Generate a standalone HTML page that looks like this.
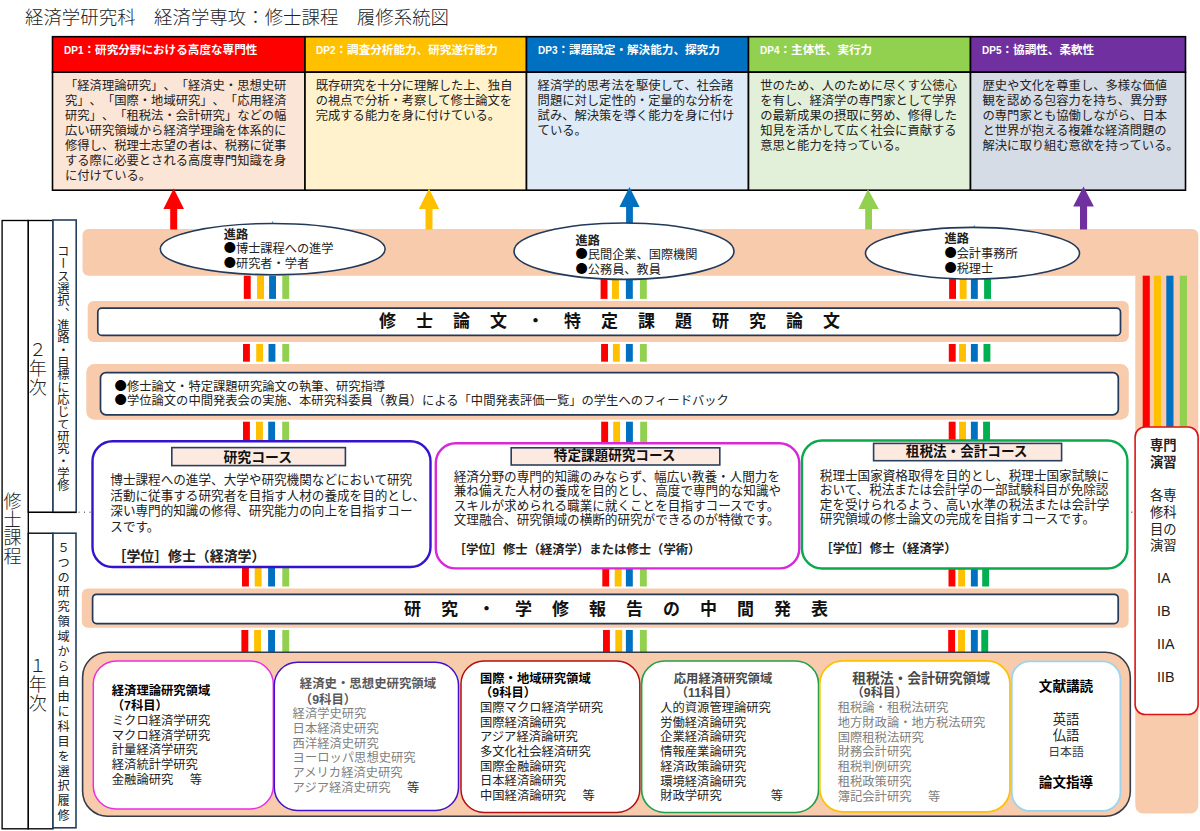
<!DOCTYPE html>
<html lang="ja">
<head>
<meta charset="utf-8">
<title>経済学研究科 経済学専攻：修士課程 履修系統図</title>
<style>
html,body{margin:0;padding:0;background:#fff;}
body{width:1200px;height:831px;position:relative;overflow:hidden;
  font-family:"Liberation Sans","Noto Sans CJK JP",sans-serif;color:#222;text-spacing-trim:space-all;}
#shapes{position:absolute;left:0;top:0;width:1200px;height:831px;}
.t{position:absolute;white-space:nowrap;font-size:12.3px;line-height:15.2px;margin:0;}
.b{font-weight:700;}
.hd{position:absolute;white-space:nowrap;font-size:11.6px;line-height:16px;font-weight:700;color:#fff;top:41.5px;}
.big{position:absolute;white-space:nowrap;font-weight:700;font-size:17px;line-height:24px;letter-spacing:20px;color:#111;}
.v{position:absolute;writing-mode:vertical-rl;white-space:nowrap;}
.g{color:#7f7f7f;}
.dp{line-height:15px;}
.k{font-family:"Noto Sans CJK JP",sans-serif;line-height:1;color:#000;}
.c{text-align:center;}
.dpn{font-size:10px;}
.e{margin-left:4.2px;}
</style>
</head>
<body>
<svg id="shapes" width="1200" height="831" viewBox="0 0 1200 831">
<!-- DP table -->
<g stroke="#000" stroke-width="1.6">
<rect x="52.5" y="36.7" width="252.5" height="35.5" fill="#FF0000"/>
<rect x="305" y="36.7" width="221.5" height="35.5" fill="#FFC000"/>
<rect x="526.5" y="36.7" width="222" height="35.5" fill="#0070C0"/>
<rect x="748.5" y="36.7" width="222" height="35.5" fill="#92D050"/>
<rect x="970.5" y="36.7" width="215" height="35.5" fill="#7030A0"/>
<rect x="52.5" y="72.2" width="252.5" height="118" fill="#FBE5D6"/>
<rect x="305" y="72.2" width="221.5" height="118" fill="#FFF2CC"/>
<rect x="526.5" y="72.2" width="222" height="118" fill="#DEEBF7"/>
<rect x="748.5" y="72.2" width="222" height="118" fill="#E2F0D9"/>
<rect x="970.5" y="72.2" width="215" height="118" fill="#D6DCE5"/>
</g>
<!-- left column boxes -->
<g fill="#fff" stroke="#000" stroke-width="1.35">
<rect x="2.1" y="220.5" width="26.2" height="608.3"/>
<rect x="28.3" y="220.5" width="24.7" height="291.8"/>
<rect x="28.3" y="533.2" width="24.7" height="295.6"/>
</g>
<g fill="#fff" stroke="#24405F" stroke-width="1.6">
<rect x="53" y="220" width="23.2" height="292.3"/>
<rect x="53" y="533.2" width="23" height="294.6"/>
</g>
<line x1="28.2" y1="512.3" x2="76" y2="512.3" stroke="#000" stroke-width="1.35"/>
<line x1="78.5" y1="512.2" x2="92" y2="512.2" stroke="#333" stroke-width="1" stroke-dasharray="1 4.5"/>
<rect x="1131.3" y="511.6" width="1" height="1.2" fill="#333"/>
<line x1="272.7" y1="221.3" x2="272.7" y2="223.6" stroke="#2E75B6" stroke-width="0.8"/>
<line x1="974.3" y1="225.3" x2="974.3" y2="227.6" stroke="#2E75B6" stroke-width="0.8"/>
<!-- salmon bands -->
<g fill="#F8CBAD">
<path d="M88.5 229H1192.3a6 6 0 0 1 6 6V805.5a8 8 0 0 1 -8 8H1143.3a8 8 0 0 1 -8 -8V275.7H88.5a6 6 0 0 1 -6 -6V235a6 6 0 0 1 6 -6z"/>
<rect x="87.7" y="301" width="1041.1" height="40.9" rx="6"/>
<rect x="86.3" y="364.1" width="1042.5" height="55.6" rx="8"/>
<rect x="81.8" y="588.6" width="1046.8" height="39.2" rx="6"/>
</g>
<!-- stripes -->
<g id="stripes">
<rect x="243.8" y="275.7" width="6.9" height="23.2" fill="#FF0000"/>
<rect x="257.1" y="275.7" width="6.9" height="23.2" fill="#FFC000"/>
<rect x="269.1" y="275.7" width="6.9" height="23.2" fill="#0070C0"/>
<rect x="282.3" y="275.7" width="6.9" height="23.2" fill="#92D050"/>
<rect x="600.6" y="275.7" width="6.9" height="23.2" fill="#FF0000"/>
<rect x="612" y="275.7" width="6.9" height="23.2" fill="#FFC000"/>
<rect x="625.9" y="275.7" width="6.9" height="23.2" fill="#0070C0"/>
<rect x="639.9" y="275.7" width="6.9" height="23.2" fill="#92D050"/>
<rect x="949.1" y="275.7" width="6.9" height="23.2" fill="#FF0000"/>
<rect x="959.7" y="275.7" width="6.9" height="23.2" fill="#FFC000"/>
<rect x="970.9" y="275.7" width="6.9" height="23.2" fill="#0070C0"/>
<rect x="984.1" y="275.7" width="6.9" height="23.2" fill="#00B050"/>
<rect x="243" y="344" width="6.9" height="17.7" fill="#FF0000"/>
<rect x="256.2" y="344" width="6.9" height="17.7" fill="#FFC000"/>
<rect x="268.5" y="344" width="6.9" height="17.7" fill="#0070C0"/>
<rect x="282.3" y="344" width="6.9" height="17.7" fill="#92D050"/>
<rect x="601.1" y="344" width="6.9" height="17.7" fill="#FF0000"/>
<rect x="612.9" y="344" width="6.9" height="17.7" fill="#FFC000"/>
<rect x="625.9" y="344" width="6.9" height="17.7" fill="#0070C0"/>
<rect x="639.9" y="344" width="6.9" height="17.7" fill="#92D050"/>
<rect x="948.8" y="344" width="6.9" height="17.7" fill="#FF0000"/>
<rect x="959.1" y="344" width="6.9" height="17.7" fill="#FFC000"/>
<rect x="970.9" y="344" width="6.9" height="17.7" fill="#0070C0"/>
<rect x="983.5" y="344" width="6.9" height="17.7" fill="#00B050"/>
<rect x="243" y="421.7" width="6.9" height="20.3" fill="#FF0000"/>
<rect x="256" y="421.7" width="6.9" height="20.3" fill="#FFC000"/>
<rect x="268.2" y="421.7" width="6.9" height="20.3" fill="#0070C0"/>
<rect x="282.2" y="421.7" width="6.9" height="20.3" fill="#92D050"/>
<rect x="601.2" y="421.7" width="6.9" height="20.3" fill="#FF0000"/>
<rect x="613.2" y="421.7" width="6.9" height="20.3" fill="#FFC000"/>
<rect x="626" y="421.7" width="6.9" height="20.3" fill="#0070C0"/>
<rect x="640.2" y="421.7" width="6.9" height="20.3" fill="#92D050"/>
<rect x="948.7" y="421.7" width="6.9" height="20.3" fill="#FF0000"/>
<rect x="959.1" y="421.7" width="6.9" height="20.3" fill="#FFC000"/>
<rect x="970.9" y="421.7" width="6.9" height="20.3" fill="#0070C0"/>
<rect x="983.1" y="421.7" width="6.9" height="20.3" fill="#00B050"/>
<rect x="242" y="567" width="6.9" height="19.5" fill="#FF0000"/>
<rect x="254.7" y="567" width="6.9" height="19.5" fill="#FFC000"/>
<rect x="268.1" y="567" width="6.9" height="19.5" fill="#0070C0"/>
<rect x="282.3" y="567" width="6.9" height="19.5" fill="#92D050"/>
<rect x="602.3" y="567" width="6.9" height="19.5" fill="#FF0000"/>
<rect x="614.7" y="567" width="6.9" height="19.5" fill="#FFC000"/>
<rect x="625.9" y="567" width="6.9" height="19.5" fill="#0070C0"/>
<rect x="639.9" y="567" width="6.9" height="19.5" fill="#92D050"/>
<rect x="948.5" y="567" width="6.9" height="19.5" fill="#FF0000"/>
<rect x="958.2" y="567" width="6.9" height="19.5" fill="#FFC000"/>
<rect x="970.9" y="567" width="6.9" height="19.5" fill="#0070C0"/>
<rect x="982.2" y="567" width="6.9" height="19.5" fill="#00B050"/>
<rect x="241.4" y="630" width="6.9" height="22" fill="#FF0000"/>
<rect x="254.1" y="630" width="6.9" height="22" fill="#FFC000"/>
<rect x="268.1" y="630" width="6.9" height="22" fill="#0070C0"/>
<rect x="282.3" y="630" width="6.9" height="22" fill="#92D050"/>
<rect x="603" y="630" width="6.9" height="22" fill="#FF0000"/>
<rect x="615.3" y="630" width="6.9" height="22" fill="#FFC000"/>
<rect x="625.9" y="630" width="6.9" height="22" fill="#0070C0"/>
<rect x="639.9" y="630" width="6.9" height="22" fill="#92D050"/>
<rect x="948.2" y="630" width="6.9" height="22" fill="#FF0000"/>
<rect x="958.1" y="630" width="6.9" height="22" fill="#FFC000"/>
<rect x="970.9" y="630" width="6.9" height="22" fill="#0070C0"/>
<rect x="981.3" y="630" width="6.9" height="22" fill="#00B050"/>
</g>
<!-- vertical stripes right -->
<rect x="1142.7" y="275.7" width="7.1" height="152" fill="#FF0000"/>
<rect x="1153.9" y="275.7" width="7.1" height="152" fill="#FFC000"/>
<rect x="1166.3" y="275.7" width="7.2" height="152" fill="#0070C0"/>
<rect x="1179.8" y="275.7" width="7.2" height="152" fill="#92D050"/>
<!-- arrows -->
<g>
<path d="M173.7 188.4L184 209H177.2V229.5H170.2V209H163.4z" fill="#FF0000"/>
<path d="M429 188.4L439.2 209H432.5V229.5H425.5V209H418.8z" fill="#FFC000"/>
<path d="M629.5 187L639.6 207H632.9V226H626.1V207H619.4z" fill="#0070C0"/>
<path d="M868 189.3L878.8 209H872V229.5H865.2V209H858.5z" fill="#92D050"/>
<path d="M1083.5 186.4L1093.9 206.6H1087.1V229.5H1080V206.6H1073.2z" fill="#7030A0"/>
</g>
<!-- ellipses -->
<g fill="#fff" stroke="#22395A" stroke-width="1.6">
<ellipse cx="272.7" cy="249.1" rx="112.4" ry="25.6"/>
<ellipse cx="624" cy="251.2" rx="110" ry="28.2"/>
<ellipse cx="972.5" cy="253.2" rx="107" ry="25.8"/>
</g>
<!-- white boxes in bands -->
<g fill="#fff" stroke="#22395A" stroke-width="1.7">
<rect x="97.8" y="308.2" width="1022.7" height="27.2" rx="4"/>
<rect x="100.5" y="372.6" width="1017.8" height="42.2" rx="5.5"/>
<rect x="92.6" y="594.3" width="1025.6" height="29.3" rx="4"/>
</g>
<!-- course boxes -->
<g fill="#fff" stroke-width="2.4">
<rect x="92.5" y="441.2" width="338" height="125.8" rx="20" stroke="#3512CF"/>
<rect x="435.8" y="443.3" width="363.5" height="125.1" rx="20" stroke="#D928D9"/>
<rect x="802" y="440.5" width="325.4" height="128" rx="20" stroke="#0BA84E"/>
</g>
<g fill="#FCEAE0" stroke="#2A3F5C" stroke-width="1.6">
<rect x="171.8" y="447.6" width="173.6" height="18"/>
<rect x="511.2" y="447.8" width="208.6" height="17.2"/>
<rect x="873.6" y="443.4" width="188" height="17.3"/>
</g>
<!-- right red box -->
<rect x="1135.1" y="427" width="63" height="287.5" rx="10" fill="#fff" stroke="#DC1414" stroke-width="1.6"/>
<!-- bottom container -->
<rect x="82.6" y="652.2" width="1047.7" height="164" rx="25" fill="#F8CBAD" stroke="#353C48" stroke-width="1.6"/>
<g fill="#fff" stroke-width="1.5">
<rect x="93.3" y="661" width="180" height="148" rx="23" stroke="#EA2FE0"/>
<rect x="274.3" y="662.3" width="184.2" height="148.2" rx="23" stroke="#4012D0"/>
<rect x="461" y="661" width="178.8" height="151.5" rx="23" stroke="#B50F0F"/>
<rect x="641.6" y="661" width="177" height="151.5" rx="23" stroke="#23A04B" stroke-width="1.7"/>
<rect x="819.8" y="660.8" width="190.2" height="151" rx="23" stroke="#FFC000" stroke-width="1.7"/>
<rect x="1011.8" y="661.3" width="108.6" height="149.5" rx="18" stroke="#9DD3F0" stroke-width="1.8"/>
</g>

</svg>
<div class="t" style="left:25px;top:4.9px;font-size:18.45px;line-height:26px;color:#222;font-weight:300;">経済学研究科　経済学専攻：修士課程　履修系統図</div>

<div class="hd" style="left:64px;"><span class="dpn">DP1</span>：研究分野における高度な専門性</div>
<div class="hd" style="left:316px;"><span class="dpn">DP2</span>：調査分析能力、研究遂行能力</div>
<div class="hd" style="left:538px;"><span class="dpn">DP3</span>：課題設定・解決能力、探究力</div>
<div class="hd" style="left:760px;"><span class="dpn">DP4</span>：主体性、実行力</div>
<div class="hd" style="left:982px;"><span class="dpn">DP5</span>：協調性、柔軟性</div>

<div class="t dp" style="left:65px;top:79.4px;">「経済理論研究」、「経済史・思想史研<br>究」、「国際・地域研究」、「応用経済<br>研究」、「租税法・会計研究」などの幅<br>広い研究領域から経済学理論を体系的に<br>修得し、税理士志望の者は、税務に従事<br>する際に必要とされる高度専門知識を身<br>に付けている。</div>
<div class="t dp" style="left:315.7px;top:79.4px;">既存研究を十分に理解した上、独自<br>の視点で分析・考察して修士論文を<br>完成する能力を身に付けている。</div>
<div class="t dp" style="left:537.6px;top:79.4px;">経済学的思考法を駆使して、社会諸<br>問題に対し定性的・定量的な分析を<br>試み、解決策を導く能力を身に付け<br>ている。</div>
<div class="t dp" style="left:760.2px;top:79.4px;">世のため、人のために尽くす公徳心<br>を有し、経済学の専門家として学界<br>の最新成果の摂取に努め、修得した<br>知見を活かして広く社会に貢献する<br>意思と能力を持っている。</div>
<div class="t dp" style="left:982.5px;top:79.4px;">歴史や文化を尊重し、多様な価値<br>観を認める包容力を持ち、異分野<br>の専門家とも協働しながら、日本<br>と世界が抱える複雑な経済問題の<br>解決に取り組む意欲を持っている。</div>

<!-- left vertical labels -->
<div class="v" style="left:1px;top:491.5px;width:18.5px;font-size:18px;line-height:18.5px;font-weight:300;letter-spacing:0.25px;">修士課程</div>
<div class="v" style="left:26.3px;top:340px;width:18.5px;font-size:18px;line-height:18.5px;font-weight:300;letter-spacing:1px;">２年次</div>
<div class="v" style="left:26.3px;top:656px;width:18.5px;font-size:18px;line-height:18.5px;font-weight:300;letter-spacing:1px;">１年次</div>
<div class="v" style="left:54.4px;top:244.5px;width:15px;font-size:12.3px;line-height:15px;letter-spacing:0.05px;">コース選択、進路・目標に応じて研究・学修</div>
<div class="v" style="left:54.6px;top:541px;width:15px;font-size:12.2px;line-height:15px;letter-spacing:2.72px;">５つの研究領域から自由に科目を選択履修</div>

<!-- ellipses text -->
<div class="t" style="left:223.8px;top:227.5px;font-size:12.2px;line-height:14.9px;"><b>進路</b><br><span class="k">●</span>博士課程への進学<br><span class="k">●</span>研究者・学者</div>
<div class="t" style="left:575.6px;top:233.6px;font-size:12.2px;line-height:14.5px;"><b>進路</b><br><span class="k">●</span>民間企業、国際機関<br><span class="k">●</span>公務員、教員</div>
<div class="t" style="left:944.5px;top:231.5px;font-size:12.2px;line-height:15px;"><b>進路</b><br><span class="k">●</span>会計事務所<br><span class="k">●</span>税理士</div>

<div class="big" style="left:379px;top:310.4px;">修士論文・特定課題研究論文</div>
<div class="t" style="left:114.6px;top:379.9px;font-size:12.3px;line-height:14.5px;"><span class="k">●</span>修士論文・特定課題研究論文の執筆、研究指導<br><span class="k">●</span>学位論文の中間発表会の実施、本研究科委員（教員）による「中間発表評価一覧」の学生へのフィードバック</div>
<div class="big" style="left:404px;top:598.4px;">研究・学修報告の中間発表</div>

<!-- courses -->
<div class="t b" style="left:223.4px;top:448.6px;font-size:13.9px;line-height:16px;color:#111;">研究コース</div>
<div class="t" style="left:110.3px;top:473.2px;font-size:12.6px;line-height:15.6px;">博士課程への進学、大学や研究機関などにおいて研究<br>活動に従事する研究者を目指す人材の養成を目的とし、<br>深い専門的知識の修得、研究能力の向上を目指すコー<br>スです。</div>
<div class="t b" style="left:112.5px;top:547.8px;font-size:13.9px;line-height:16px;">［学位］修士（経済学）</div>

<div class="t b" style="left:553.8px;top:448px;font-size:13.6px;line-height:16px;color:#111;">特定課題研究コース</div>
<div class="t" style="left:453.7px;top:469.9px;font-size:12.6px;line-height:14.5px;">経済分野の専門的知識のみならず、幅広い教養・人間力を<br>兼ね備えた人材の養成を目的とし、高度で専門的な知識や<br>スキルが求められる職業に就くことを目指すコースです。<br>文理融合、研究領域の横断的研究ができるのが特徴です。</div>
<div class="t b" style="left:453.6px;top:541.7px;font-size:12.35px;line-height:16px;">［学位］修士（経済学）または修士（学術）</div>

<div class="t b" style="left:905.8px;top:443.8px;font-size:13.6px;line-height:16px;color:#111;">租税法・会計コース</div>
<div class="t" style="left:819.8px;top:468.5px;font-size:12.6px;line-height:14.6px;">税理士国家資格取得を目的とし、税理士国家試験に<br>おいて、税法または会計学の一部試験科目が免除認<br>定を受けられるよう、高い水準の税法または会計学<br>研究領域の修士論文の完成を目指すコースです。</div>
<div class="t b" style="left:820.3px;top:541.3px;font-size:12.4px;line-height:16px;">［学位］修士（経済学）</div>

<!-- right box -->
<div class="t c" style="left:1132.2px;width:62px;top:438.2px;font-size:13.3px;line-height:16.7px;white-space:normal;"><b>専門<br>演習</b><br><br>各専<br>修科<br>目の<br>演習</div>
<div class="t" style="left:1157px;top:562.2px;font-size:14.3px;line-height:33.1px;">IA<br>IB<br>IIA<br>IIB</div>

<!-- research areas -->
<div class="t" style="left:111.8px;top:684.3px;line-height:14.75px;"><b style="color:#000">経済理論研究領域<br>（7科目）</b><br>ミクロ経済学研究<br>マクロ経済学研究<br>計量経済学研究<br>経済統計学研究<br>金融論研究　<span class="e">等</span></div>

<div class="t g b" style="left:299.8px;top:675.7px;font-size:12.4px;line-height:16px;color:#595959;">経済史・思想史研究領域<br>（9科目）</div>
<div class="t g" style="left:292.6px;top:707.2px;line-height:14.7px;">経済学史研究<br>日本経済史研究<br>西洋経済史研究<br>ヨーロッパ思想史研究<br>アメリカ経済史研究<br>アジア経済史研究　<span class="e" style="color:#333">等</span></div>

<div class="t" style="left:480px;top:671.5px;line-height:14.7px;"><b style="color:#000">国際・地域研究領域<br>（9科目）</b><br>国際マクロ経済学研究<br>国際経済論研究<br>アジア経済論研究<br>多文化社会経済研究<br>国際金融論研究<br>日本経済論研究<br>中国経済論研究　<span class="e">等</span></div>

<div class="t b" style="left:673.8px;top:671.6px;line-height:14.7px;color:#4a4a4a;">応用経済研究領域</div>
<div class="t b" style="left:675.8px;top:686.3px;line-height:14.7px;color:#4a4a4a;">（11科目）</div>
<div class="t" style="left:660.2px;top:701px;line-height:14.7px;color:#262626;">人的資源管理論研究<br>労働経済論研究<br>企業経済論研究<br>情報産業論研究<br>経済政策論研究<br>環境経済論研究<br>財政学研究　　　　等</div>

<div class="t b" style="left:852.2px;top:670.8px;font-size:13.8px;line-height:16px;color:#4a4a4a;">租税法・会計研究領域</div>
<div class="t b" style="left:851.5px;top:684.9px;font-size:12.3px;line-height:16px;color:#4a4a4a;">（9科目）</div>
<div class="t g" style="left:837.7px;top:701.2px;line-height:14.74px;">租税論・租税法研究<br>地方財政論・地方税法研究<br>国際租税法研究<br>財務会計研究<br>租税判例研究<br>租税政策研究<br>簿記会計研究　<span class="e">等</span></div>

<div class="t c b" style="left:1012px;width:108px;top:679.2px;font-size:13.6px;line-height:16px;color:#000;">文献講読</div>
<div class="t c" style="left:1012px;width:108px;top:711.5px;font-size:13.3px;line-height:16.35px;color:#262626;">英語<br>仏語<br><span style="font-size:11.9px;color:#404040">日本語</span></div>
<div class="t c b" style="left:1012px;width:108px;top:775.3px;font-size:13.6px;line-height:16px;color:#000;">論文指導</div>
</body>
</html>
